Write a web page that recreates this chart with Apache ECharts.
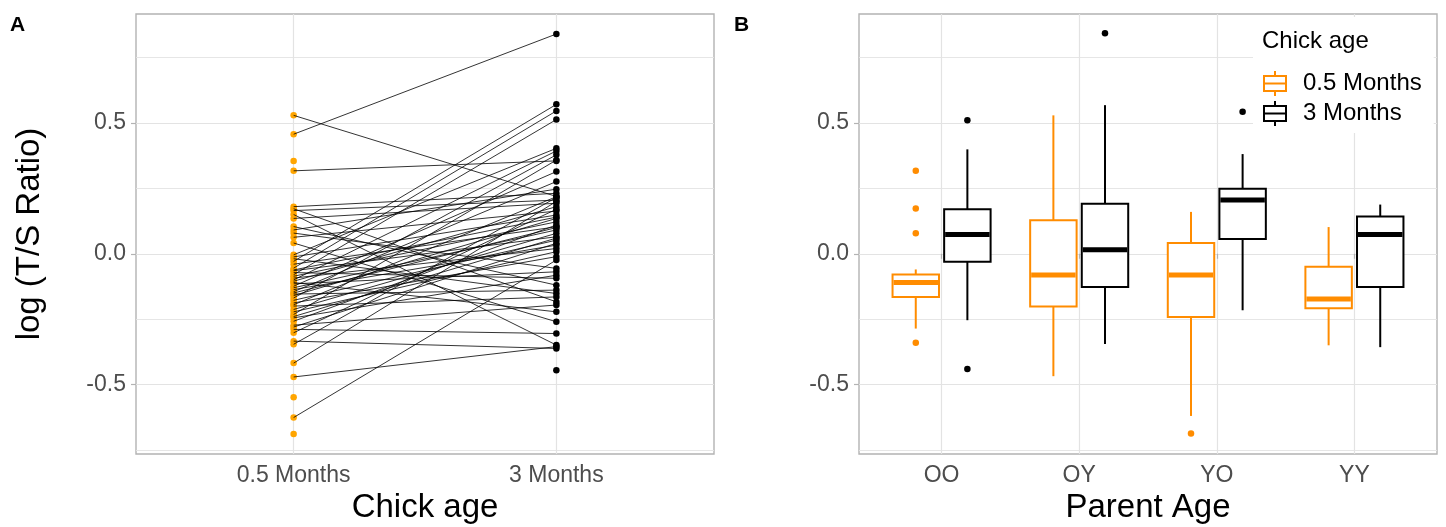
<!DOCTYPE html>
<html>
<head>
<meta charset="utf-8">
<script src="https://cdn.jsdelivr.net/npm/echarts@6/dist/echarts.min.js"></script>
<style>
html,body{margin:0;padding:0;background:#fff;}
#chart{width:1446px;height:527px;}
</style>
</head>
<body>
<div id="chart"></div>
<script>
// ---------- DATA ----------
const chickAges = ['0.5 Months', '3 Months'];
const parentGroups = ['OO', 'OY', 'YO', 'YY'];
const yTickLabels = [-0.5, 0, 0.5];
const yGridValues = [-0.75, -0.5, -0.25, 0, 0.25, 0.5, 0.75];

// Panel A: paired log(T/S) per chick (null = not measured at that age)
const young = [0.529, 0.457, 0.355, 0.317, 0.180, 0.172, 0.165, 0.150, 0.135, 0.104, 0.091, 0.079, 0.063, 0.041,
  -0.004, -0.012, -0.019, -0.029, -0.040, -0.055, -0.065, -0.072, -0.080, -0.086, -0.093, -0.100, -0.105, -0.115,
  -0.124, -0.130, -0.137, -0.145, -0.154, -0.160, -0.169, -0.178, -0.188, -0.195, -0.200, -0.213, -0.222, -0.232,
  -0.245, -0.258, -0.273, -0.280, -0.289, -0.302, -0.334, -0.346, -0.418, -0.471, -0.549, -0.626, -0.689, null,
  -0.110, -0.062, -0.150, -0.240];
const old = [0.219, 0.840, null, 0.355, 0.231, -0.184, 0.205, -0.349, 0.193, -0.120, 0.247, -0.056, 0.163, -0.260,
  0.403, 0.148, -0.152, 0.571, 0.103, 0.546, 0.065, -0.094, 0.513, 0.122, 0.020, 0.393, 0.180, -0.069,
  0.314, 0.091, 0.033, 0.276, -0.139, 0.135, 0.378, 0.052, -0.011, 0.218, -0.165, 0.078, 0.008, 0.358,
  -0.082, 0.110, -0.196, 0.040, -0.305, 0.170, -0.362, 0.215, 0.200, -0.355, null, -0.024, null, -0.445,
  -0.222, 0.140, 0.100, 0.060];

// Panel B: boxplot stats [lower whisker, Q1, median, Q3, upper whisker] per parent group
const box05 = [
  [-0.286, -0.165, -0.110, -0.079, -0.060],
  [-0.468, -0.202, -0.081, 0.128, 0.529],
  [-0.620, -0.242, -0.081, 0.041, 0.160],
  [-0.350, -0.208, -0.173, -0.050, 0.102]
];
const box3 = [
  [-0.254, -0.031, 0.074, 0.170, 0.399],
  [-0.345, -0.127, 0.015, 0.191, 0.568],
  [-0.216, 0.056, 0.205, 0.248, 0.381],
  [-0.357, -0.127, 0.074, 0.142, 0.188]
];
// outliers: [group index (0-based), value]
const out05 = [[0, 0.317], [0, 0.173], [0, 0.078], [0, -0.340], [2, -0.687]];
const out3 = [[0, 0.510], [0, -0.441], [1, 0.843], [2, 0.543]];

// ---------- STYLE / LAYOUT ----------
const FONT = 'Liberation Sans, Arial, sans-serif';
const ORANGE_A = '#FFA500';
const ORANGE_B = '#FF8C00';
const GRID_C = '#E3E3E3';
const BORDER_C = '#B3B3B3';
const LABEL_C = '#4D4D4D';
const DODGE = 0.1875;
const BOX_W = 0.3375;

// y range as ggplot: data range expanded 5%
const allVals = young.concat(old).filter(v => v != null);
const dMin = Math.min.apply(null, allVals), dMax = Math.max.apply(null, allVals);
const pad = (dMax - dMin) * 0.05;
const yMin = dMin - pad, yMax = dMax + pad;

function mainY(gridIndex, showLabels) {
  return {
    type: 'value', gridIndex: gridIndex, position: 'left', min: yMin, max: yMax,
    axisLine: { show: false },
    axisTick: { show: false, customValues: yGridValues },
    axisLabel: {
      show: true, customValues: yTickLabels, margin: 10,
      formatter: v => v.toFixed(1), color: LABEL_C, fontSize: 23, fontFamily: FONT
    },
    splitLine: { show: true, lineStyle: { color: GRID_C, width: 0.9 } },
    name: showLabels ? 'log (T/S Ratio)' : '',
    nameLocation: 'middle', nameGap: 90,
    nameTextStyle: { fontSize: 33, color: '#000', fontFamily: FONT }
  };
}
function tickY(gridIndex) {
  return {
    type: 'value', gridIndex: gridIndex, position: 'left', min: yMin, max: yMax,
    axisLine: { show: false },
    axisTick: { show: true, customValues: yTickLabels, length: 5, lineStyle: { color: BORDER_C, width: 1.2 } },
    axisLabel: { show: false },
    splitLine: { show: true, lineStyle: { color: GRID_C, width: 1.2 } }
  };
}
function catX(gridIndex, cats, title) {
  const vals = cats.map((c, i) => i + 1);
  return {
    type: 'value', gridIndex: gridIndex, min: 0.4, max: cats.length + 0.6,
    axisLine: { show: false },
    axisTick: { show: true, customValues: vals, length: 5, lineStyle: { color: BORDER_C, width: 1.2 } },
    axisLabel: {
      customValues: vals, margin: 10, formatter: v => cats[Math.round(v) - 1],
      color: LABEL_C, fontSize: 23, fontFamily: FONT
    },
    splitLine: { show: true, lineStyle: { color: GRID_C, width: 1.2 } },
    name: title, nameLocation: 'middle', nameGap: 37,
    nameTextStyle: { fontSize: 33, color: '#000', fontFamily: FONT }
  };
}

// ---------- SERIES DATA ----------
const youngPts = young.filter(v => v != null).map(v => [1, v]);
const oldPts = old.filter(v => v != null).map(v => [2, v]);
const pairLines = [];
young.forEach((v, i) => {
  if (v != null && old[i] != null) pairLines.push({ coords: [[1, v], [2, old[i]]] });
});

function boxData(stats) { return stats.map((s, i) => [i + 1].concat(s)); }
function renderBox(offset, color) {
  return function (params, api) {
    const x = api.value(0) + offset;
    const p = (v) => api.coord([x, v]);
    const cx = p(api.value(3))[0];
    const yLo = p(api.value(1))[1], yQ1 = p(api.value(2))[1], yMed = p(api.value(3))[1];
    const yQ3 = p(api.value(4))[1], yHi = p(api.value(5))[1];
    const w = api.size([BOX_W, 0])[0];
    const lw = 2;
    return {
      type: 'group',
      children: [
        { type: 'line', shape: { x1: cx, y1: yHi, x2: cx, y2: yQ3 }, style: { stroke: color, lineWidth: lw } },
        { type: 'line', shape: { x1: cx, y1: yQ1, x2: cx, y2: yLo }, style: { stroke: color, lineWidth: lw } },
        { type: 'rect', shape: { x: cx - w / 2, y: yQ3, width: w, height: yQ1 - yQ3 }, style: { fill: '#fff', stroke: color, lineWidth: lw } },
        { type: 'line', shape: { x1: cx - w / 2 + 1, y1: yMed, x2: cx + w / 2 - 1, y2: yMed }, style: { stroke: color, lineWidth: 5 } }
      ]
    };
  };
}

const legendIcon = 'path://M12,0 L12,5 M1,5 L23,5 L23,20 L1,20 Z M1,12.5 L23,12.5 M12,20 L12,25';

const option = {
  animation: false,
  backgroundColor: '#fff',
  textStyle: { fontFamily: FONT },
  title: [
    { text: 'A', left: 10, top: 15, padding: 0, textStyle: { fontSize: 21, fontWeight: 'bold', color: '#000', fontFamily: FONT } },
    { text: 'B', left: 734, top: 15, padding: 0, textStyle: { fontSize: 21, fontWeight: 'bold', color: '#000', fontFamily: FONT } },
    { text: 'Chick age', left: 1262, top: 29, padding: 0, textStyle: { fontSize: 24, fontWeight: 'normal', color: '#000', fontFamily: FONT } }
  ],
  legend: {
    orient: 'vertical', left: 1253, top: 17,
    padding: [53, 12, 6, 10],
    backgroundColor: '#fff',
    itemWidth: 24, itemHeight: 25, itemGap: 3,
    selectedMode: false,
    textStyle: { fontSize: 24, color: '#000', fontFamily: FONT, padding: [0, 0, 0, 11] },
    data: [
      { name: chickAges[0], icon: legendIcon, itemStyle: { color: '#fff', borderColor: ORANGE_B, borderWidth: 2 } },
      { name: chickAges[1], icon: legendIcon, itemStyle: { color: '#fff', borderColor: '#000', borderWidth: 2 } }
    ]
  },
  grid: [
    { left: 136, right: 732, top: 14, bottom: 73, show: true, borderColor: BORDER_C, borderWidth: 1.4, backgroundColor: '#fff', outerBoundsMode: 'none', containLabel: false },
    { left: 859, right: 9, top: 14, bottom: 73, show: true, borderColor: BORDER_C, borderWidth: 1.4, backgroundColor: '#fff', outerBoundsMode: 'none', containLabel: false }
  ],
  xAxis: [
    catX(0, chickAges, 'Chick age'),
    catX(1, parentGroups, 'Parent Age')
  ],
  yAxis: [
    mainY(0, true), tickY(0),
    mainY(1, false), tickY(1)
  ],
  series: [
    {
      name: 'A-young', type: 'scatter', xAxisIndex: 0, yAxisIndex: 0, z: 2,
      symbolSize: 6.5, itemStyle: { color: ORANGE_A, opacity: 1 }, data: youngPts
    },
    {
      name: 'A-pairs', type: 'lines', coordinateSystem: 'cartesian2d', xAxisIndex: 0, yAxisIndex: 0, z: 3,
      lineStyle: { color: '#000', width: 0.8, opacity: 1 }, data: pairLines
    },
    {
      name: 'A-old', type: 'scatter', xAxisIndex: 0, yAxisIndex: 0, z: 4,
      symbolSize: 6.5, itemStyle: { color: '#000', opacity: 1 }, data: oldPts
    },
    {
      name: chickAges[0], type: 'custom', xAxisIndex: 1, yAxisIndex: 2, z: 3,
      itemStyle: { color: ORANGE_B },
      dimensions: ['x', 'lo', 'q1', 'med', 'q3', 'hi'],
      encode: { x: 0, y: [1, 2, 3, 4, 5] },
      renderItem: renderBox(-DODGE, ORANGE_B), data: boxData(box05)
    },
    {
      name: chickAges[1], type: 'custom', xAxisIndex: 1, yAxisIndex: 2, z: 3,
      itemStyle: { color: '#000' },
      dimensions: ['x', 'lo', 'q1', 'med', 'q3', 'hi'],
      encode: { x: 0, y: [1, 2, 3, 4, 5] },
      renderItem: renderBox(DODGE, '#000'), data: boxData(box3)
    },
    {
      name: 'B-out05', type: 'scatter', xAxisIndex: 1, yAxisIndex: 2, z: 4,
      symbolSize: 6.5, itemStyle: { color: ORANGE_B, opacity: 1 },
      data: out05.map(d => [d[0] + 1 - DODGE, d[1]])
    },
    {
      name: 'B-out3', type: 'scatter', xAxisIndex: 1, yAxisIndex: 2, z: 4,
      symbolSize: 6.5, itemStyle: { color: '#000', opacity: 1 },
      data: out3.map(d => [d[0] + 1 + DODGE, d[1]])
    }
  ]
};

const chart = echarts.init(document.getElementById('chart'), null, { renderer: 'canvas' });
chart.setOption(option);
</script>
</body>
</html>
